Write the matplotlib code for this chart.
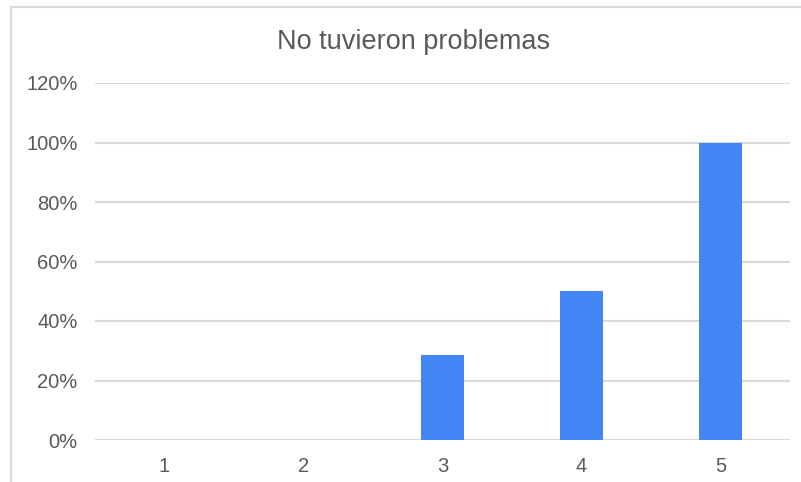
import matplotlib
matplotlib.use("Agg")
import matplotlib.pyplot as plt
from matplotlib.patches import Rectangle
from matplotlib.ticker import FuncFormatter

categories = ["1", "2", "3", "4", "5"]
values = [0.0, 0.0, 28.57, 50.0, 100.0]
yticks = [0, 20, 40, 60, 80, 100, 120]
title = "No tuvieron problemas"

plt.rcParams['font.family'] = ['Liberation Sans', 'DejaVu Sans']

W, H = 801, 482
fig = plt.figure(figsize=(W/100, H/100), dpi=100)
fig.patches.append(Rectangle((11/W, -0.1), 1.2, 1 - 7/H + 0.1, transform=fig.transFigure,
                             facecolor='white', edgecolor='#d9d9d9', linewidth=1.5, zorder=-10))

ax = fig.add_axes([95/W, 1 - 440/H, (790-95)/W, (440-83)/H])
x = range(len(categories))
ax.bar(x, values, width=0.316, color='#4285f4', zorder=3)
ax.set_xlim(-0.5, len(categories) - 0.5)
ax.set_ylim(0, 120)
ax.set_yticks(yticks)
ax.yaxis.set_major_formatter(FuncFormatter(lambda v, p: f"{int(v)}%"))
ax.set_xticks(list(x))
ax.set_xticklabels(categories)
ax.grid(axis='y', color='#d9d9d9', linewidth=1.5, zorder=0)
for s in ax.spines.values():
    s.set_visible(False)
ax.tick_params(axis='both', length=0, labelsize=14.5, colors='#595959')
ax.tick_params(axis='y', pad=12.5)
ax.tick_params(axis='x', pad=12)
ax.patch.set_alpha(0)
fig.text(414/W, 1 - 42/H, title, ha='center', va='center', fontsize=19.5, color='#595959')

fig.savefig("out.png", dpi=100)
